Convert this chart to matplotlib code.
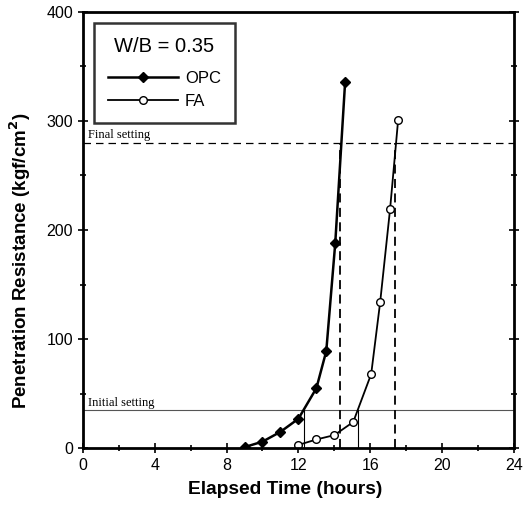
import matplotlib
matplotlib.use("Agg")
from matplotlib import pyplot as plt

# данные
opc_t = [9.0, 10.0, 11.0, 12.0, 13.0, 13.55, 14.05, 14.6]
opc_r = [1, 6, 15, 27, 55, 89, 188, 336]
fa_t = [12.0, 13.0, 14.0, 15.05, 16.05, 16.55, 17.1, 17.55]
fa_r = [3, 8, 12, 24, 68, 134, 219, 301]

initial_level = 35
final_level = 280
opc_setting = [12.3, 14.3]   # initial, final
fa_setting = [15.3, 17.4]

x_ticks = [0, 4, 8, 12, 16, 20, 24]
y_ticks = [0, 100, 200, 300, 400]

plt.rcParams['font.family'] = ['Liberation Sans', 'DejaVu Sans']

fig = plt.figure(figsize=(5.24, 5.14), dpi=100)
ax = fig.add_axes([0.158, 0.128, 0.823, 0.849])

# линии схватывания
ax.axhline(final_level, color='black', lw=0.9, ls=(0, (6, 4)))
ax.axhline(initial_level, color='#555555', lw=0.8)
ax.text(0.3, final_level + 4, 'Final setting', family='Liberation Serif', fontsize=9)
ax.text(0.3, initial_level + 4, 'Initial setting', family='Liberation Serif', fontsize=9)

for t_ini, t_fin in [opc_setting, fa_setting]:
    ax.plot([t_ini, t_ini], [0, initial_level], color='black', lw=0.8)
    ax.plot([t_fin, t_fin], [0, final_level], color='black', lw=1.3, ls=(0, (5, 3)))

ax.plot(opc_t, opc_r, color='black', lw=1.8, marker='D', ms=5, mfc='black', label='OPC')
ax.plot(fa_t, fa_r, color='black', lw=1.3, marker='o', ms=5.5, mfc='white', label='FA')

ax.set_xlim(0, 24)
ax.set_ylim(0, 400)
ax.set_xticks(x_ticks)
ax.set_yticks(y_ticks)
ax.set_xticks(range(0, 25, 2), minor=True)
ax.set_yticks(range(0, 401, 50), minor=True)
ax.tick_params(which='both', direction='inout', width=1.2, labelsize=11.5, right=True)
ax.tick_params(which='major', length=7)
ax.tick_params(which='minor', length=5)
for s in ax.spines.values():
    s.set_linewidth(2)

ax.set_xlabel('Elapsed Time (hours)', fontsize=13.8, fontweight='bold')
ax.set_ylabel('Penetration Resistance (kgf/cm$^\\mathbf{2}$)', fontsize=13.5, fontweight='bold')
ax.xaxis.set_label_coords(0.47, -0.075)
ax.yaxis.set_label_coords(-0.115, 0.43)

leg = ax.legend(title='W/B = 0.35', loc='upper left', bbox_to_anchor=(0.026, 0.975),
                frameon=True, fancybox=False, edgecolor='black', fontsize=12,
                title_fontsize=14.5, handlelength=4.2, handletextpad=0.4,
                borderpad=0.85, labelspacing=0.45, borderaxespad=0)
leg.get_frame().set_linewidth(1.8)
leg._legend_box.sep = 11

fig.savefig('out.png', dpi=100)
